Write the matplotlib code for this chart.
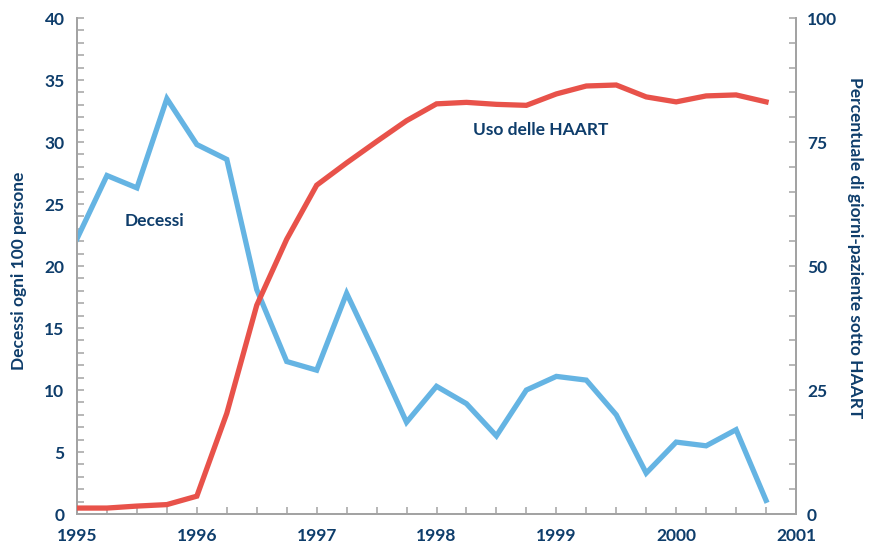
import numpy as np
import matplotlib
matplotlib.use('Agg')
import matplotlib.pyplot as plt
from matplotlib.ticker import MultipleLocator

# quarterly observations, 1995 Q1 .. 2000 Q4
quarters = [1995.0, 1995.25, 1995.5, 1995.75,
            1996.0, 1996.25, 1996.5, 1996.75,
            1997.0, 1997.25, 1997.5, 1997.75,
            1998.0, 1998.25, 1998.5, 1998.75,
            1999.0, 1999.25, 1999.5, 1999.75,
            2000.0, 2000.25, 2000.5, 2000.75]

# deaths per 100 person-years (left axis)
deaths = [22.2, 27.3, 26.3, 33.5,
          29.8, 28.6, 18.1, 12.3,
          11.6, 17.8, 12.7, 7.4,
          10.3, 8.9, 6.3, 10.0,
          11.1, 10.8, 8.0, 3.3,
          5.8, 5.5, 6.8, 1.1]

# share of patient-days on HAART, percent (right axis)
haart = [1.2, 1.2, 1.6, 1.9,
         3.6, 20.3, 42.1, 55.4,
         66.3, 70.8, 75.1, 79.3,
         82.7, 83.0, 82.6, 82.4,
         84.7, 86.3, 86.5, 84.1,
         83.1, 84.3, 84.5, 83.1]

year_ticks = [1995, 1996, 1997, 1998, 1999, 2000, 2001]

NAVY = '#0e3d6b'
BLUE = '#65b4e3'
RED = '#e8524a'
GRAY = '#a3a3a3'

plt.rcParams['font.family'] = ['Lato', 'DejaVu Sans']
plt.rcParams['font.weight'] = 'bold'

fig = plt.figure(figsize=(8.73, 5.47), dpi=100)
ax = fig.add_axes([0.0882, 0.0603, 0.8236, 0.9067])
ax2 = ax.twinx()

ax.plot(quarters, deaths, color=BLUE, lw=3.8, solid_joinstyle='miter', zorder=3)
ax2.plot(quarters, haart, color=RED, lw=3.8, solid_joinstyle='miter', zorder=3)

ax.set_xlim(1995, 2001)
ax.set_ylim(0, 40)
ax2.set_ylim(0, 100)

ax.xaxis.set_minor_locator(MultipleLocator(0.25))
ax.set_xticks(year_ticks)
ax.set_xticklabels([str(y) for y in year_ticks])
ax.yaxis.set_major_locator(MultipleLocator(5))
ax.yaxis.set_minor_locator(MultipleLocator(1))
ax2.yaxis.set_major_locator(MultipleLocator(25))
ax2.yaxis.set_minor_locator(MultipleLocator(5))

for a in (ax, ax2):
    a.spines['top'].set_visible(False)
    for side in ('left', 'right', 'bottom'):
        a.spines[side].set_color(GRAY)
        a.spines[side].set_linewidth(1.3)

ax.tick_params(axis='both', which='both', direction='in', length=5, width=1.1,
               color=GRAY, labelcolor=NAVY, labelsize=12.5)
ax.tick_params(axis='y', pad=9)
ax.tick_params(axis='x', pad=10)
ax2.tick_params(axis='y', which='both', direction='in', length=5, width=1.1,
                color=GRAY, labelcolor=NAVY, labelsize=12.5, pad=8)

ax.set_ylabel('Decessi ogni 100 persone', color=NAVY, fontsize=12.5,
              fontweight='bold', va='center')
ax.yaxis.set_label_coords(-0.081, 0.49)
ax2.set_ylabel('Percentuale di giorni-paziente sotto HAART', color=NAVY,
               fontsize=12.5, fontweight='bold', rotation=-90, va='center')
ax2.yaxis.set_label_coords(1.082, 0.538)

ax.text(1995.65, 23.6, 'Decessi', color=NAVY, fontsize=12.5,
        fontweight='bold', ha='center', va='center')
ax.text(1998.87, 31.0, 'Uso delle HAART', color=NAVY, fontsize=12.5,
        fontweight='bold', ha='center', va='center')

fig.savefig('out.png', dpi=100)
